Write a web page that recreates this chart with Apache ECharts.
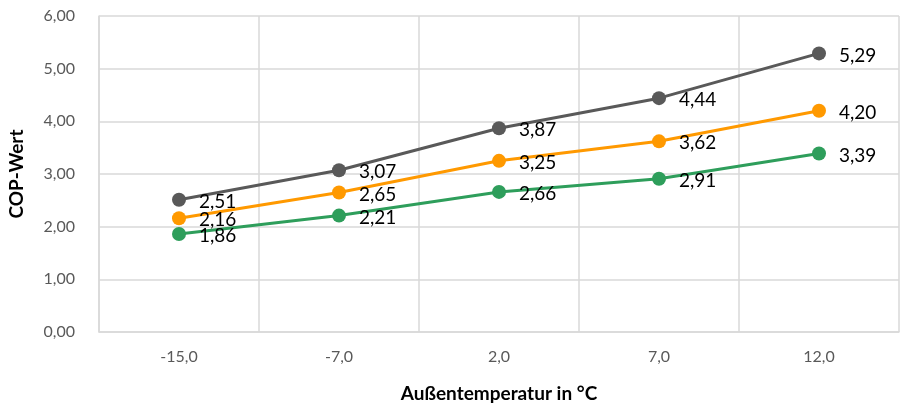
<!DOCTYPE html>
<html><head><meta charset="utf-8">
<script src="https://cdn.jsdelivr.net/npm/echarts@6/dist/echarts.min.js"></script>
<style>html,body{margin:0;padding:0;background:#fff}#c{width:901px;height:407px}</style>
</head><body><div id="c"></div>
<script>
const categories = ['-15,0', '-7,0', '2,0', '7,0', '12,0'];
const seriesGray = [2.51, 3.07, 3.87, 4.44, 5.29];
const seriesOrange = [2.16, 2.65, 3.25, 3.62, 4.20];
const seriesGreen = [1.86, 2.21, 2.66, 2.91, 3.39];
const yTicks = [0, 1, 2, 3, 4, 5, 6];

const fmt = v => v.toFixed(2).replace('.', ',');
const font = 'Lato, "Open Sans", sans-serif';
function mk(name, data, color) {
  return {
    name, type: 'line', data,
    symbol: 'circle', symbolSize: 14,
    lineStyle: { width: 3, color },
    itemStyle: { color },
    label: {
      show: true, position: 'right', distance: 13, offset: [0, 2],
      color: '#000', fontSize: 19, fontFamily: font,
      formatter: p => fmt(p.value)
    },
    z: 3
  };
}
const chart = echarts.init(document.getElementById('c'), null, { renderer: 'canvas' });
chart.setOption({
  animation: false,
  grid: { left: 99, right: 2, top: 16, bottom: 75, containLabel: false, outerBoundsMode: 'none' },
  xAxis: {
    type: 'category', data: categories, boundaryGap: true,
    name: 'Außentemperatur in °C', nameLocation: 'middle', nameGap: 52,
    nameTextStyle: { fontSize: 19, fontWeight: 'bold', color: '#000', fontFamily: font },
    axisLine: { show: true, lineStyle: { color: '#d9d9d9', width: 1.5 } },
    axisTick: { show: false },
    axisLabel: { color: '#595959', fontSize: 16, fontFamily: font, margin: 17 },
    splitLine: { show: true, lineStyle: { color: '#d9d9d9', width: 1.5 } }
  },
  yAxis: {
    type: 'value', min: 0, max: 6, interval: 1,
    name: 'COP-Wert', nameLocation: 'middle', nameGap: 73, nameRotate: 90,
    nameTextStyle: { fontSize: 19, fontWeight: 'bold', color: '#000', fontFamily: font },
    axisLine: { show: true, lineStyle: { color: '#d9d9d9', width: 1.5 } },
    axisTick: { show: false },
    axisLabel: { color: '#595959', fontSize: 16, fontFamily: font, margin: 24, formatter: v => fmt(v) },
    splitLine: { show: true, lineStyle: { color: '#d9d9d9', width: 1.5 } }
  },
  series: [
    mk('Grau', seriesGray, '#595959'),
    mk('Orange', seriesOrange, '#FF9900'),
    mk('Grün', seriesGreen, '#2E9E5B')
  ]
});
</script></body></html>
